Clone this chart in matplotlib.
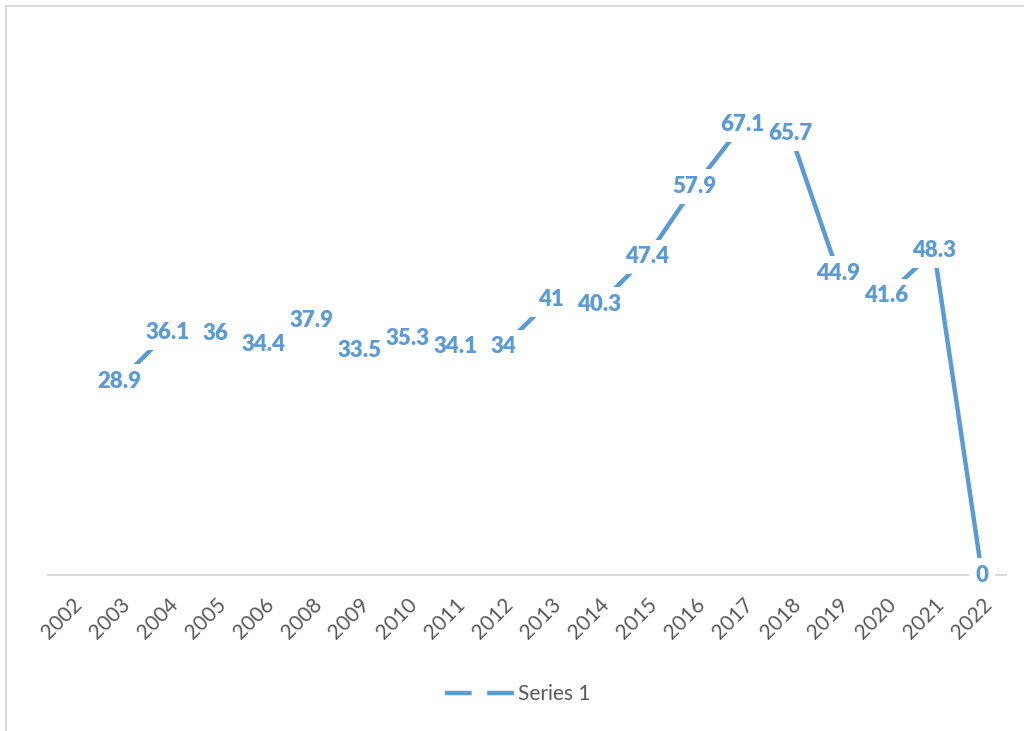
import numpy as np
import matplotlib.pyplot as plt
from matplotlib.lines import Line2D

years = ['2002', '2003', '2004', '2005', '2006', '2008', '2009', '2010', '2011', '2012',
         '2013', '2014', '2015', '2016', '2017', '2018', '2019', '2020', '2021', '2022']
# 2002 has no value
values = [np.nan, 28.9, 36.1, 36, 34.4, 37.9, 33.5, 35.3, 34.1, 34,
          41, 40.3, 47.4, 57.9, 67.1, 65.7, 44.9, 41.6, 48.3, 0]
series_name = 'Series 1'

blue = '#5B9BD5'
grey = '#595959'

fig = plt.figure(figsize=(10.24, 7.31), dpi=100)
ax = fig.add_axes([48/1024, 156/731, 958/1024, 537/731])

x = np.arange(len(years))
ax.plot(x, values, color=blue, lw=3.2, solid_capstyle='butt', zorder=2)

for xi, v in zip(x, values):
    if np.isnan(v):
        continue
    # white box first, text on top so neighbouring boxes never cut the digits
    ax.text(xi, v, f'{v:g}', ha='center', va='center', color='none',
            fontsize=16, fontweight='heavy', family='Lato', zorder=3,
            bbox=dict(boxstyle='square,pad=0.3', fc='white', ec='none'))
    ax.text(xi, v, f'{v:g}', ha='center', va='center', color=blue,
            fontsize=16, fontweight='heavy', family='Lato', zorder=4)

ax.set_xlim(-0.5, len(years) - 0.5)
ax.set_ylim(0, 80)
ax.set_xticks(x)
ax.set_xticklabels(years, rotation=45, ha='right', va='top', rotation_mode='anchor',
                   color=grey, fontsize=15, family='Lato')
ax.tick_params(axis='x', length=0, pad=14)
ax.set_yticks([])
for s in ['top', 'right', 'left']:
    ax.spines[s].set_visible(False)
ax.spines['bottom'].set_color('#D9D9D9')
ax.spines['bottom'].set_linewidth(1.5)

handle = Line2D([], [], color=blue, lw=3.2, dashes=(6, 3.5), solid_capstyle='butt')
fig.legend([handle], [series_name], loc='center', bbox_to_anchor=(518/1024, 1 - 694/731),
           frameon=False, handlelength=3.3, handletextpad=0.2,
           prop=dict(family='Lato', size=15), labelcolor=grey)

# chart border (top and left visible)
fig.add_artist(Line2D([6/1024, 1], [1 - 6/731, 1 - 6/731], color='#D9D9D9', lw=1.5))
fig.add_artist(Line2D([6/1024, 6/1024], [0, 1 - 6/731], color='#D9D9D9', lw=1.5))

fig.savefig('out.png', dpi=100)
